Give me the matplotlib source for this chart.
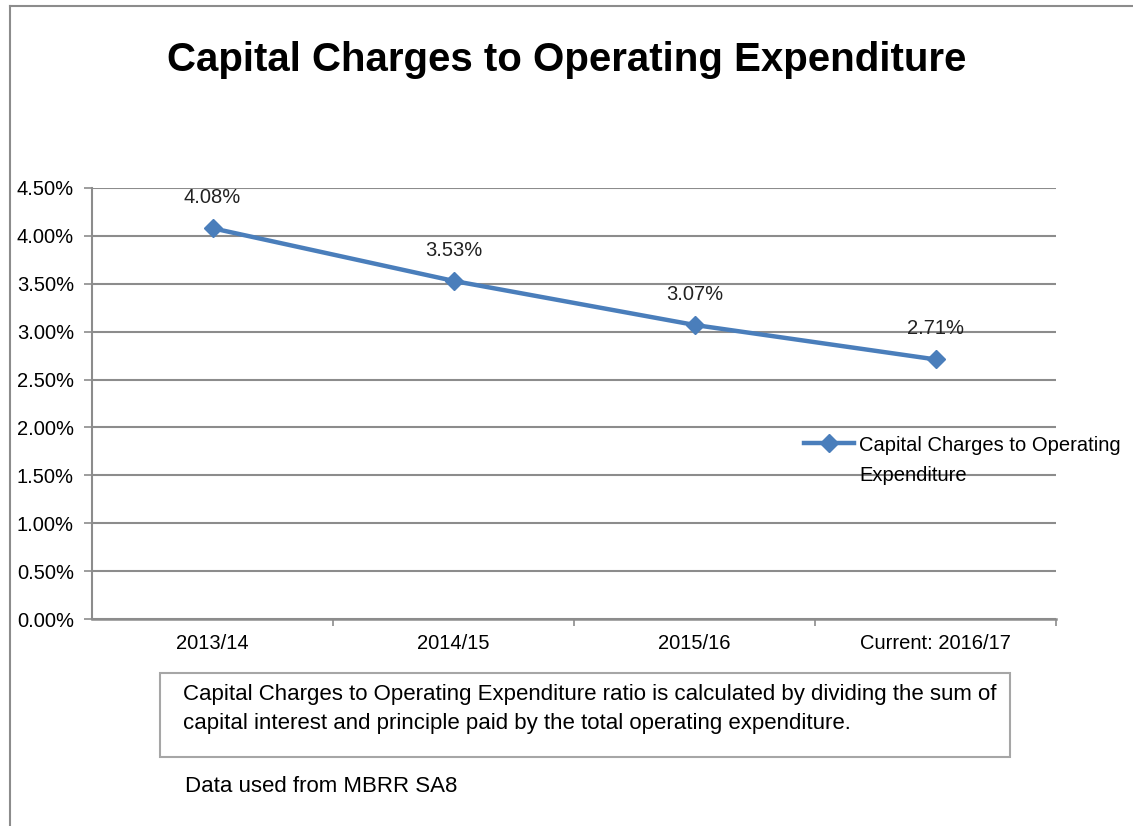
import matplotlib.pyplot as plt
from matplotlib.lines import Line2D
from matplotlib.patches import Rectangle

plt.rcParams['font.family'] = ['Liberation Sans', 'DejaVu Sans']

# ratios per financial year (percent)
years = ['2013/14', '2014/15', '2015/16', 'Current: 2016/17']
ratio = [4.08, 3.53, 3.07, 2.71]
y_ticks = [0.0, 0.5, 1.0, 1.5, 2.0, 2.5, 3.0, 3.5, 4.0, 4.5]
series_name = 'Capital Charges to Operating\nExpenditure'
note = ('Capital Charges to Operating Expenditure ratio is calculated by dividing the sum of\n'
        'capital interest and principle paid by the total operating expenditure.')
source = 'Data used from MBRR SA8'

blue = '#4a7ebb'
grey = '#8c8c8c'

fig = plt.figure(figsize=(11.33, 8.26), dpi=100)
ax = fig.add_axes([0.0812, 0.2506, 0.851, 0.5218])

x = list(range(len(years)))
ax.plot(x, ratio, color=blue, lw=3.2, marker='D', ms=9, mec=blue, mfc=blue,
        label=series_name, zorder=3)
for xi, v in zip(x, ratio):
    ax.annotate(f'{v:.2f}%', (xi, v), xytext=(0, 22), textcoords='offset points',
                ha='center', va='center', fontsize=14.5, color='#222222')

ax.set_xlim(-0.5, len(years) - 0.5)
ax.set_ylim(0, 4.5)
ax.set_yticks(y_ticks)
ax.set_yticklabels([f'{t:.2f}%' for t in y_ticks], fontsize=14.5)
ax.yaxis.grid(True, color=grey, lw=1.5)
ax.set_axisbelow(True)

# category labels centred, tick marks between categories
ax.set_xticks(x)
ax.set_xticklabels(years, fontsize=14.5)
ax.tick_params(axis='x', length=0, pad=11)
ax.set_xticks([i + 0.5 for i in x], minor=True)
ax.tick_params(axis='x', which='minor', length=5, color=grey, width=1.2)
ax.tick_params(axis='y', length=6, color=grey, width=1.2, pad=7)

for s in ['top', 'right']:
    ax.spines[s].set_visible(False)
ax.spines['left'].set_color(grey)
ax.spines['bottom'].set_color(grey)
ax.spines['left'].set_linewidth(1.5)
ax.spines['bottom'].set_linewidth(1.8)

leg = ax.legend(loc='upper left', bbox_to_anchor=(0.738, 0.425), frameon=False,
                fontsize=14.5, handlelength=2.5, handletextpad=0.25,
                borderpad=0, borderaxespad=0)
leg.get_texts()[0].set_linespacing(1.75)
# handle sits on the first line of the label
for col in leg._legend_handle_box.get_children():
    for row in col.get_children():
        row.align = 'top'

fig.text(0.5, 0.927, 'Capital Charges to Operating Expenditure', ha='center', va='center',
         fontsize=29, fontweight='bold')

# explanatory note box
fig.patches.append(Rectangle((160 / 1133, 1 - 757 / 826), 850 / 1133, 84 / 826,
                             transform=fig.transFigure, fill=False, ec='#a6a6a6', lw=1.5))
fig.text(183 / 1133, 1 - 709 / 826, note, ha='left', va='center', fontsize=16,
         linespacing=1.45)
fig.text(185 / 1133, 1 - 787 / 826, source, ha='left', va='center', fontsize=16)

# outer frame (left and top edges)
fig.add_artist(Line2D([10 / 1133, 10 / 1133], [0, 1 - 6 / 826], transform=fig.transFigure,
                      color=grey, lw=1.5))
fig.add_artist(Line2D([10 / 1133, 1], [1 - 6 / 826, 1 - 6 / 826], transform=fig.transFigure,
                      color=grey, lw=1.5))

fig.savefig('out.png', dpi=100)
